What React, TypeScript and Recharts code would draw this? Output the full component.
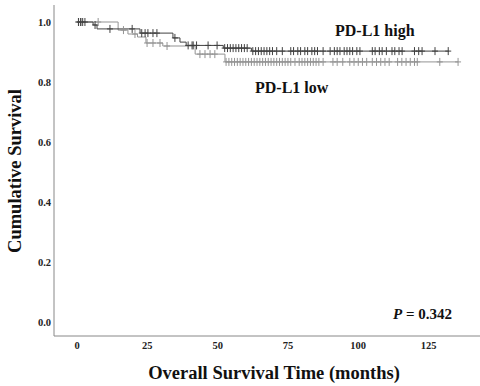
import { ComposedChart, Line, Scatter, XAxis, YAxis, Label, Customized } from 'recharts'

// Kaplan-Meier steps: [months, cumulative survival]
const highSteps: [number, number][] = [
  [0, 1.0], [5.7, 0.99], [7.1, 0.977], [22.4, 0.963], [34.1, 0.947], [36.6, 0.933],
  [38.8, 0.922], [52, 0.913], [62, 0.903], [132.3, 0.903],
]
const lowSteps: [number, number][] = [
  [0, 1.0], [14.6, 0.973], [18.1, 0.96], [21.5, 0.95], [24.5, 0.93], [30.5, 0.92],
  [42, 0.893], [52.6, 0.867], [135.5, 0.867],
]

// censored cases (months)
const highCensored = [
  0.5, 1.2, 2, 2.8, 6.4, 11.7, 19.6, 23, 24.2, 25.2, 27, 28.4, 34.8, 39.5, 40.9, 41.3, 42.5,
  46.6, 49.8, 52.5, 53.5, 54.5, 55.5, 56.5, 57.5, 58.5, 59.5, 60.5, 62.5, 63.5, 64.5, 65.5,
  66.5, 67.5, 68.5, 69.5, 71, 73, 76, 77, 78.5, 79.5, 81, 82, 83.5, 84.5, 85.5, 87.5, 90,
  91.5, 92.5, 93.5, 95, 96, 97, 98, 99.5, 100.6, 105, 106, 107.5, 108.5, 110, 112, 113,
  114.5, 115.6, 120, 121.5, 122.7, 127.3, 132,
]
const lowCensored = [
  0.5, 1.5, 7.5, 16.5, 20.6, 24.9, 27, 29.5, 32, 43.7, 45.5, 47.3, 49, 53, 54, 55, 56, 57,
  58, 59, 60, 61, 62, 63, 64, 65, 66, 67, 68, 69, 70, 71, 72, 73, 74, 75, 76, 77.5, 79, 80,
  81, 82, 83, 84, 85, 86, 87.5, 91, 92.5, 94.5, 97, 98.5, 100, 101.5, 103, 105, 106.5, 108,
  109.5, 111, 114, 115.5, 117, 118.5, 120, 121, 129, 135.5,
]

const xTicks = [0, 25, 50, 75, 100, 125]
const yTicks = [0, 0.2, 0.4, 0.6, 0.8, 1.0]

const HIGH_COLOR = '#404040'
const LOW_COLOR = '#939393'
const FONT = '"Liberation Serif", "Times New Roman", serif'

const toRows = (steps: [number, number][]) => steps.map(([t, s]) => ({ t, s }))

// survival value of the step curve at time t
const survAt = (steps: [number, number][], t: number) => {
  let s = steps[0][1]
  for (const [tt, ss] of steps) if (tt <= t) s = ss
  return s
}
const censorRows = (steps: [number, number][], times: number[]) =>
  times.map((t) => ({ t, s: survAt(steps, t) }))

const plus = (color: string) => (props: any) => {
  const { cx, cy } = props
  if (cx == null || cy == null) return <g />
  return <path d={`M${cx - 3},${cy}h6M${cx},${cy - 4}v8`} stroke={color} strokeWidth={1} fill="none" />
}

const tickStyle = { fontFamily: FONT, fontSize: 10.5, fontWeight: 700, fill: '#222' }

const Annotations = () => (
  <g fontFamily={FONT} fontWeight={700} fill="#111">
    <text x={335} y={36} fontSize={16}>PD-L1 high</text>
    <text x={255} y={93} fontSize={16}>PD-L1 low</text>
    <text x={393} y={319} fontSize={15}>
      <tspan fontStyle="italic">P</tspan>
      <tspan> = 0.342</tspan>
    </text>
  </g>
)

export default function App() {
  return (
    <div style={{ position: 'fixed', left: 0, top: 0, width: 480, height: 386, background: '#fff' }}>
      <ComposedChart width={480} height={386} margin={{ top: 5, right: 0, left: 0, bottom: 0 }}>
        <XAxis
          type="number" dataKey="t" domain={[-8.2, 143.3]} ticks={xTicks} allowDataOverflow
          height={50} tickLine={false} tickSize={1} tickMargin={5}
          axisLine={{ stroke: '#888' }} tick={tickStyle}
        >
          <Label
            content={() => (
              <text x={274} y={379} textAnchor="middle" fontFamily={FONT} fontWeight={700} fontSize={18.5} fill="#111">
                Overall Survival Time (months)
              </text>
            )}
          />
        </XAxis>
        <YAxis
          type="number" dataKey="s" domain={[-0.0467, 1.0567]} ticks={yTicks} allowDataOverflow
          width={54} tickLine={false} tickSize={1} tickMargin={2}
          axisLine={{ stroke: '#888' }} tick={tickStyle}
          tickFormatter={(v: number) => v.toFixed(1)}
        >
          <Label
            content={() => (
              <text x={21} y={171} transform="rotate(-90 21 171)" textAnchor="middle" fontFamily={FONT} fontWeight={700} fontSize={18.5} fill="#111">
                Cumulative Survival
              </text>
            )}
          />
        </YAxis>
        <Line data={toRows(lowSteps)} dataKey="s" type="stepAfter" stroke={LOW_COLOR} strokeWidth={1} dot={false} isAnimationActive={false} />
        <Line data={toRows(highSteps)} dataKey="s" type="stepAfter" stroke={HIGH_COLOR} strokeWidth={1} dot={false} isAnimationActive={false} />
        <Scatter data={censorRows(lowSteps, lowCensored)} dataKey="s" shape={plus(LOW_COLOR)} isAnimationActive={false} />
        <Scatter data={censorRows(highSteps, highCensored)} dataKey="s" shape={plus(HIGH_COLOR)} isAnimationActive={false} />
        <Customized component={Annotations} />
      </ComposedChart>
    </div>
  )
}
